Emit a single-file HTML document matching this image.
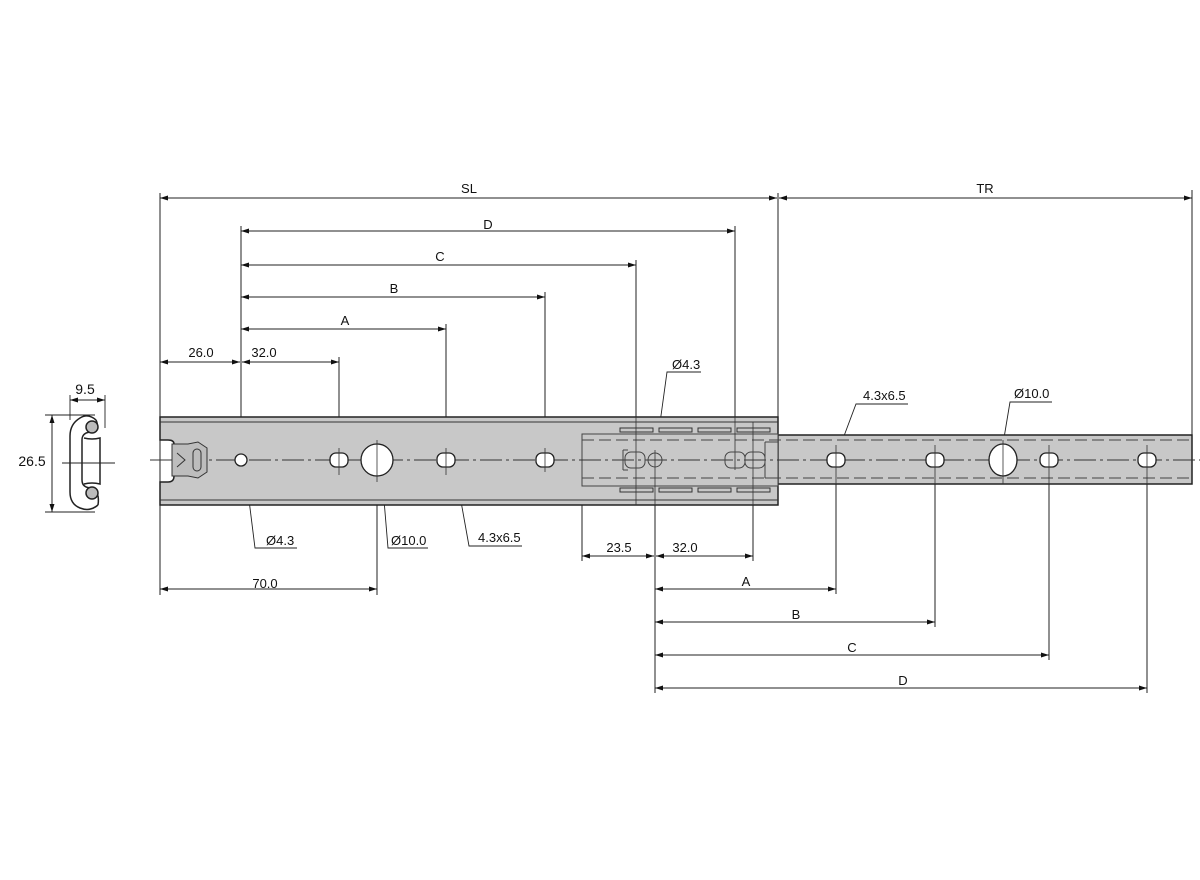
<!DOCTYPE html>
<html><head><meta charset="utf-8"><style>
html,body{margin:0;padding:0;background:#fff;}
svg{display:block}
text{font-family:"Liberation Sans","DejaVu Sans",sans-serif;font-size:13px;fill:#111}
</style></head><body>
<svg width="1200" height="880" viewBox="0 0 1200 880" xmlns="http://www.w3.org/2000/svg">
<defs>
<marker id="a" markerWidth="8" markerHeight="6" refX="8" refY="3" orient="auto-start-reverse" markerUnits="userSpaceOnUse"><path d="M0,0.5 L8,3 L0,5.5z" fill="#111"/></marker>
</defs>
<g stroke="#222" stroke-width="1" fill="none">
<line x1="160" y1="193" x2="160" y2="595"/>
<line x1="778" y1="193" x2="778" y2="417"/>
<line x1="1192" y1="190" x2="1192" y2="435"/>
<line x1="241" y1="226" x2="241" y2="455"/>
<line x1="735" y1="226" x2="735" y2="455"/>
<line x1="636" y1="260" x2="636" y2="505"/>
<line x1="545" y1="292" x2="545" y2="470"/>
<line x1="446" y1="324" x2="446" y2="470"/>
<line x1="339" y1="357" x2="339" y2="475"/>
<line x1="377" y1="445" x2="377" y2="595"/>
<line x1="582" y1="484" x2="582" y2="561"/>
<line x1="655" y1="465" x2="655" y2="693"/>
<line x1="753" y1="440" x2="753" y2="561"/>
<line x1="836" y1="450" x2="836" y2="594"/>
<line x1="935" y1="450" x2="935" y2="627"/>
<line x1="1049" y1="450" x2="1049" y2="660"/>
<line x1="1147" y1="450" x2="1147" y2="693"/>
</g>
<g stroke="#222" stroke-width="1" marker-start="url(#a)" marker-end="url(#a)">
<line x1="160" y1="198" x2="777" y2="198"/>
<line x1="779" y1="198" x2="1192" y2="198"/>
<line x1="241" y1="231" x2="735" y2="231"/>
<line x1="241" y1="265" x2="636" y2="265"/>
<line x1="241" y1="297" x2="545" y2="297"/>
<line x1="241" y1="329" x2="446" y2="329"/>
<line x1="160" y1="362" x2="240" y2="362"/>
<line x1="242" y1="362" x2="339" y2="362"/>
<line x1="160" y1="589" x2="377" y2="589"/>
<line x1="582" y1="556" x2="654" y2="556"/>
<line x1="656" y1="556" x2="753" y2="556"/>
<line x1="655" y1="589" x2="836" y2="589"/>
<line x1="655" y1="622" x2="935" y2="622"/>
<line x1="655" y1="655" x2="1049" y2="655"/>
<line x1="655" y1="688" x2="1147" y2="688"/>
<line x1="52" y1="415" x2="52" y2="512"/>
<line x1="70" y1="400" x2="105" y2="400"/>
</g>
<g text-anchor="middle">
<text x="469" y="193">SL</text><text x="985" y="193">TR</text>
<text x="488" y="229">D</text><text x="440" y="261">C</text><text x="394" y="293">B</text><text x="345" y="325">A</text>
<text x="201" y="357">26.0</text><text x="264" y="357">32.0</text>
<text x="265" y="588">70.0</text><text x="619" y="552">23.5</text><text x="685" y="552">32.0</text>
<text x="746" y="586">A</text><text x="796" y="619">B</text><text x="852" y="652">C</text><text x="903" y="685">D</text>
<text x="85" y="394" style="font-size:14px">9.5</text>
<text x="32" y="466" style="font-size:14px">26.5</text>
</g>
<g stroke="#222" fill="none" stroke-width="0.9">
<polyline points="245,468 255,548 297,548"/><text x="266" y="545" stroke="none">Ø4.3</text>
<polyline points="382,476 388,548 428,548"/><text x="391" y="545" stroke="none">Ø10.0</text>
<polyline points="455,468 469,546 522,546"/><text x="478" y="542" stroke="none">4.3x6.5</text>
<polyline points="656,452 667,372 701,372"/><text x="672" y="369" stroke="none">Ø4.3</text>
<polyline points="838,452 856,404 908,404"/><text x="863" y="400" stroke="none">4.3x6.5</text>
<polyline points="1003,444 1010,402 1052,402"/><text x="1014" y="398" stroke="none">Ø10.0</text>
</g>
<path d="M160,417 H778 V505 H160 V482 H168 Q174,482 174,476 V444 Q174,440 168,440 H160 Z" fill="#c8c8c8" stroke="#222" stroke-width="1.5"/>
<line x1="160" y1="422" x2="778" y2="422" stroke="#333"/>
<line x1="160" y1="500" x2="778" y2="500" stroke="#333"/>
<rect x="778" y="435" width="414" height="49" fill="#c8c8c8" stroke="#222" stroke-width="1.5"/>
<rect x="582" y="434" width="196" height="52" fill="#c8c8c8" stroke="#444"/>
<g stroke="#444" stroke-dasharray="12,5" fill="none">
<line x1="582" y1="440" x2="1192" y2="440"/><line x1="582" y1="478" x2="1192" y2="478"/>
</g>
<g fill="#c8c8c8" stroke="#333">
<rect x="620" y="428" width="33" height="4"/><rect x="659" y="428" width="33" height="4"/><rect x="698" y="428" width="33" height="4"/><rect x="737" y="428" width="33" height="4"/>
<rect x="620" y="488" width="33" height="4"/><rect x="659" y="488" width="33" height="4"/><rect x="698" y="488" width="33" height="4"/><rect x="737" y="488" width="33" height="4"/>
</g>
<line x1="150" y1="460" x2="1200" y2="460" stroke="#333" stroke-dasharray="22,4,3,4"/>
<g fill="#bdbdbd" stroke="#333">
<path d="M172,444 H188 L198,442 L207,448 V472 L198,478 L188,476 H172 Z"/>
<rect x="193" y="449" width="8" height="22" rx="4"/>
<path d="M177,453 L185,460 L177,467" fill="none"/>
</g>
<g fill="#fff" stroke="#222" stroke-width="1.3">
<circle cx="241" cy="460" r="6"/>
<rect x="330" y="453" width="18" height="14" rx="6"/>
<circle cx="377" cy="460" r="16"/>
<rect x="437" y="453" width="18" height="14" rx="6"/>
<rect x="536" y="453" width="18" height="14" rx="6"/>
<rect x="827" y="453" width="18" height="14" rx="6"/>
<rect x="926" y="453" width="18" height="14" rx="6"/>
<ellipse cx="1003" cy="460" rx="14" ry="16"/>
<rect x="1040" y="453" width="18" height="14" rx="6"/>
<rect x="1138" y="453" width="18" height="14" rx="6"/>
</g>
<g stroke="#333" stroke-width="0.8">
<line x1="339" y1="448" x2="339" y2="475"/><line x1="377" y1="440" x2="377" y2="482"/>
<line x1="446" y1="448" x2="446" y2="475"/><line x1="545" y1="448" x2="545" y2="472"/>
<line x1="836" y1="445" x2="836" y2="484"/><line x1="935" y1="445" x2="935" y2="484"/>
<line x1="1003" y1="440" x2="1003" y2="484"/><line x1="1049" y1="445" x2="1049" y2="484"/>
<line x1="1147" y1="445" x2="1147" y2="484"/>
<line x1="636" y1="417" x2="636" y2="505"/><line x1="655" y1="450" x2="655" y2="505"/>
<line x1="735" y1="417" x2="735" y2="470"/><line x1="753" y1="422" x2="753" y2="505"/>
</g>
<g fill="none" stroke="#444">
<circle cx="655" cy="460" r="7"/>
<rect x="625" y="452" width="20" height="16" rx="6"/>
<rect x="725" y="452" width="20" height="16" rx="6"/>
<rect x="745" y="452" width="20" height="16" rx="6"/>
<path d="M623,450 V470 M623,450 H628 M623,470 H628"/>
<path d="M765,442 H778 M765,478 H778 M765,442 V478"/>
</g>
<g fill="none" stroke="#222" stroke-width="1.5">
<path d="M96,420 Q88,413 80,418 Q70,424 70,436 V492 Q70,504 80,508 Q90,512 98,505"/>
<path d="M96,420 Q100,428 92,432 Q82,432 82,440 V480 Q82,488 92,488 Q100,492 98,505"/>
<path d="M84,438 Q92,440 100,438 V484 Q92,482 84,484"/>
<circle cx="92" cy="427" r="6" fill="#bbb"/><circle cx="92" cy="493" r="6" fill="#bbb"/>
</g>
<g stroke="#222" stroke-width="0.9">
<line x1="45" y1="415" x2="95" y2="415"/><line x1="45" y1="512" x2="95" y2="512"/>
<line x1="70" y1="395" x2="70" y2="420"/><line x1="105" y1="395" x2="105" y2="428"/>
<line x1="62" y1="463" x2="115" y2="463"/>
</g>
</svg>
</body></html>
